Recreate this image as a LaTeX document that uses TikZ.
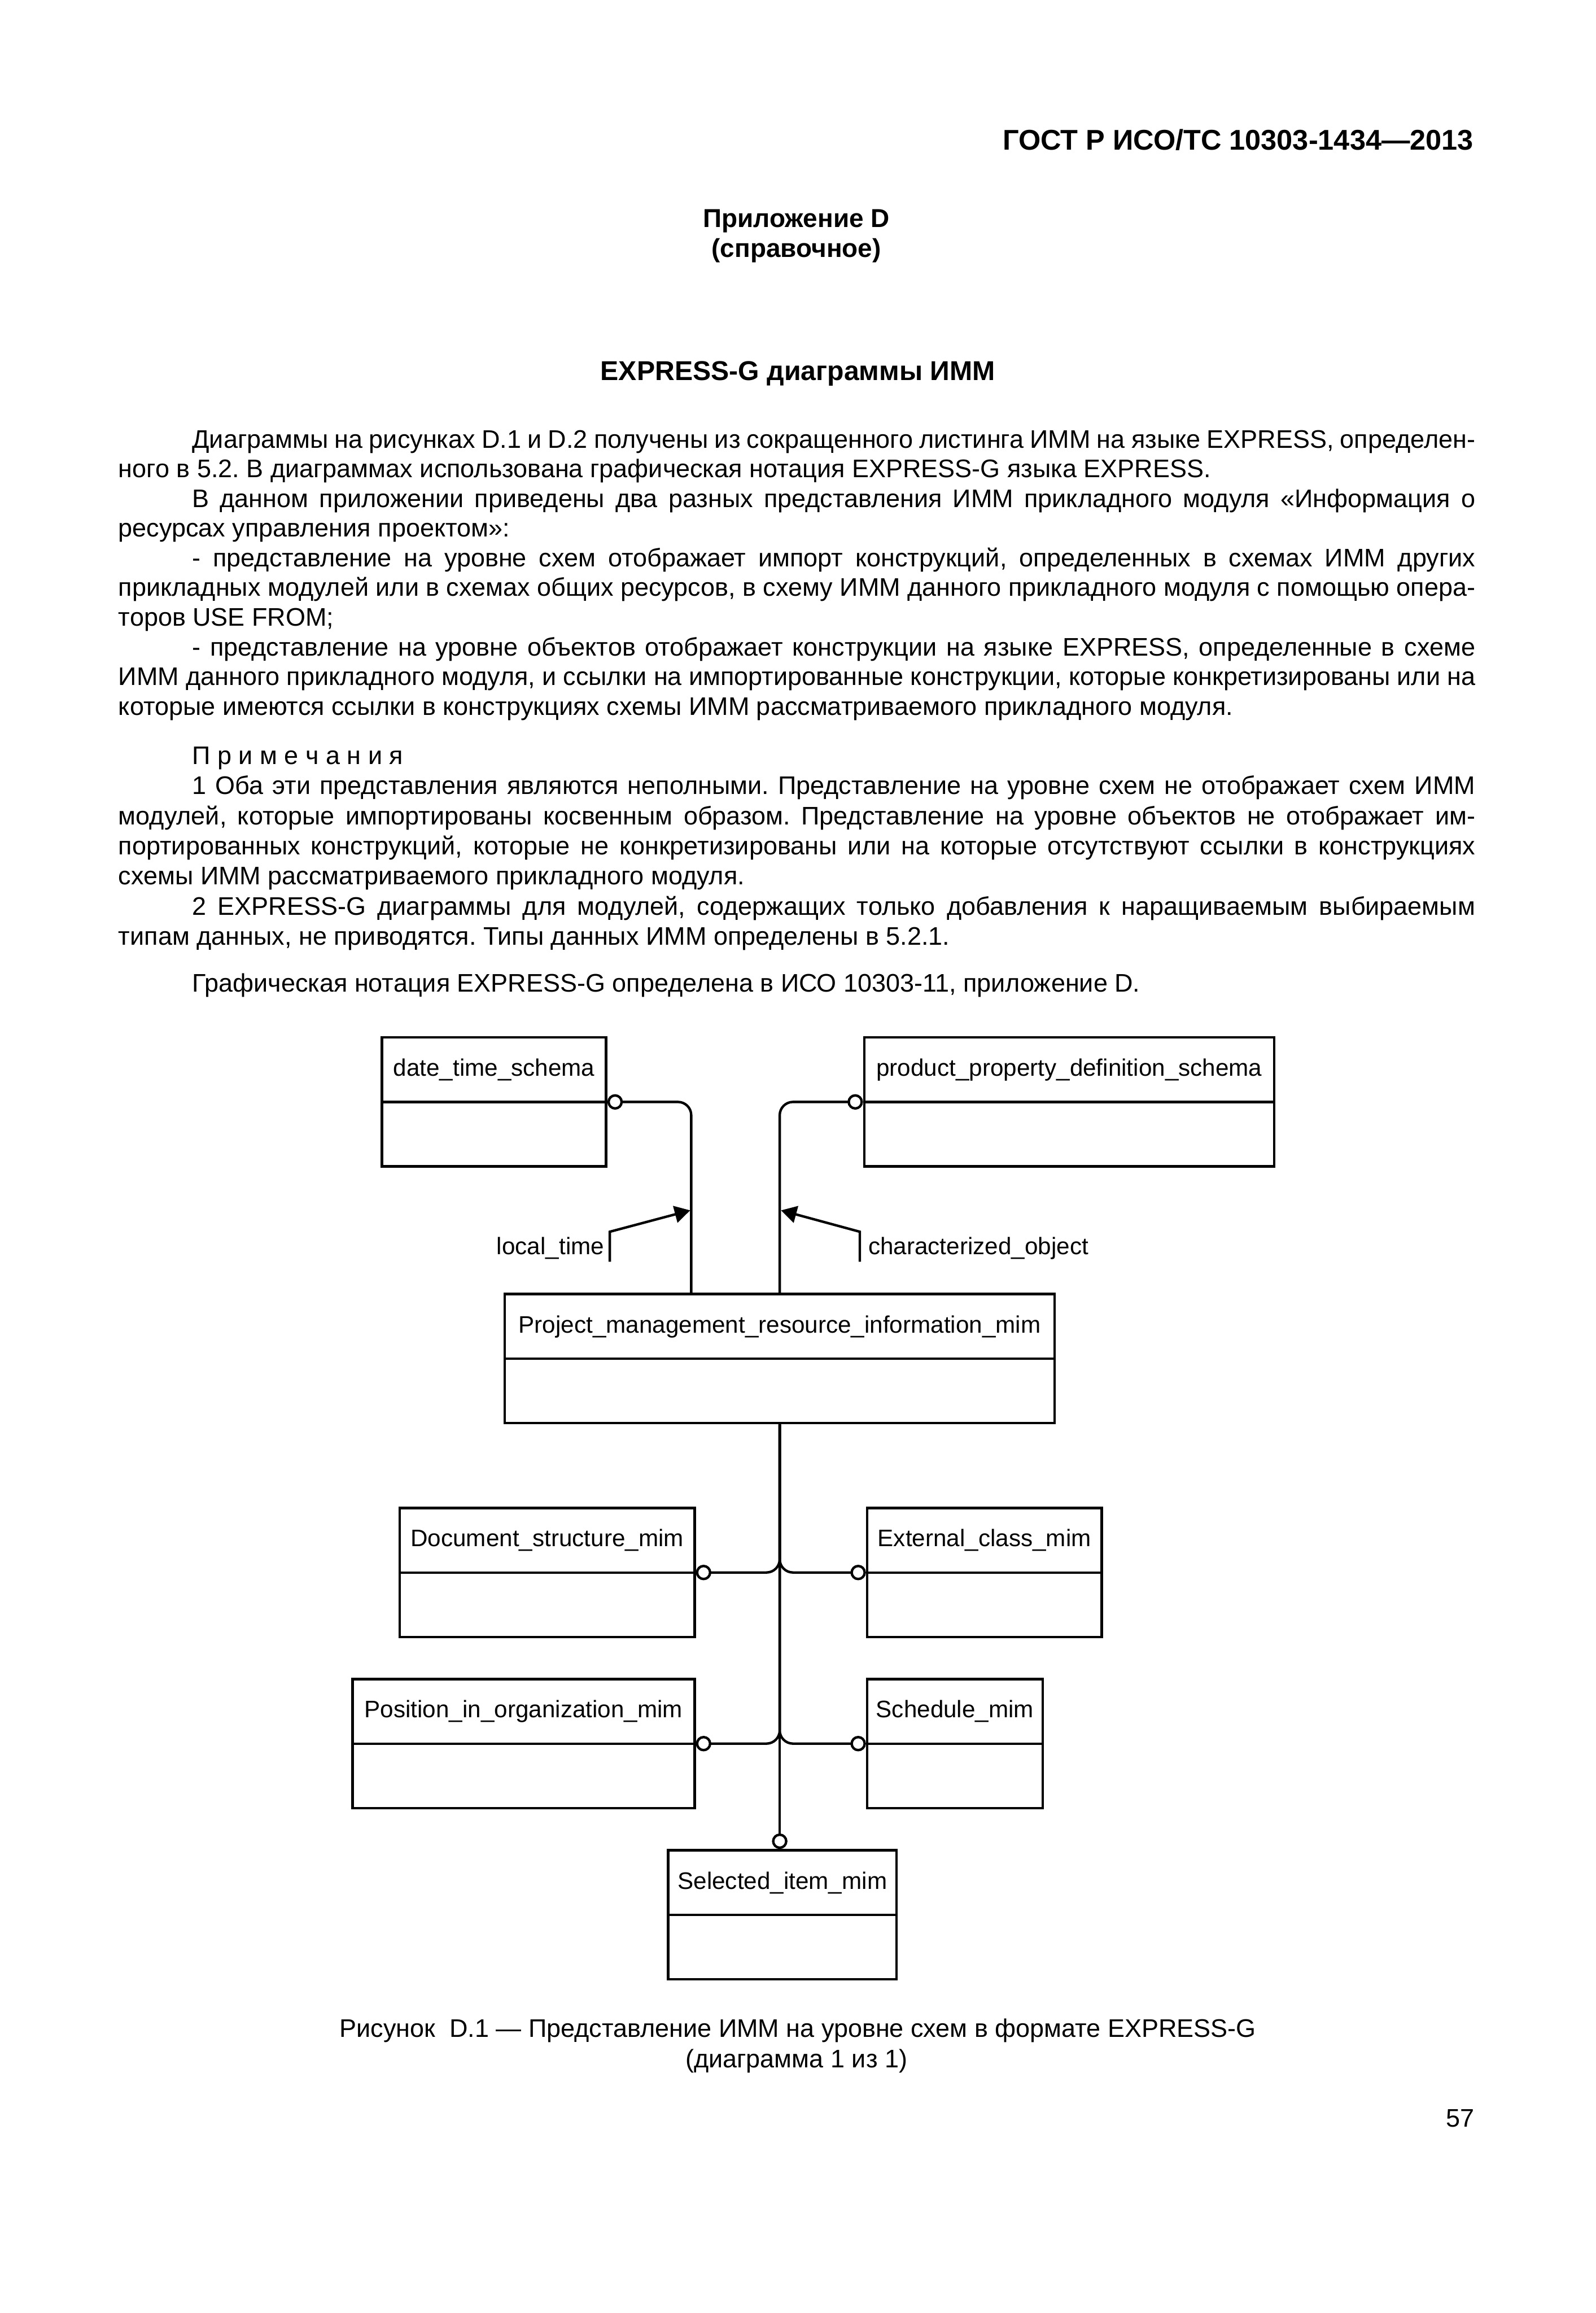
\documentclass[tikz,border=0pt]{standalone}
\usepackage{fontspec}
\setmainfont{Liberation Sans}
\usetikzlibrary{arrows.meta}
\setlength{\parindent}{0pt}
\tolerance=9999
\frenchspacing

\begin{document}
\begin{tikzpicture}[
    x=0.2mm, y=-0.2mm,
    pagetext/.style={inner sep=0pt, font=\fontsize{9.8pt}{11.45pt}\selectfont},
    headtext/.style={inner sep=0pt, font=\fontsize{11pt}{12pt}\selectfont\bfseries},
    bodytext/.style={inner sep=0pt, text width=184mm, align=justify, anchor=north west},
    bodyfont/.style={font=\fontsize{9.8pt}{#1}\selectfont},
    schemabox/.style={rectangle, draw, line width=0.95pt, minimum height=17.5mm, inner sep=0pt,
                      path picture={\draw[line width=0.95pt] (path picture bounding box.west) -- (path picture bounding box.east);}},
    schemaname/.style={inner sep=0pt, font=\fontsize{9.2pt}{11pt}\selectfont},
    conn/.style={line width=0.95pt, rounded corners=1.8mm, {Circle[open, length=2.1mm]}-},
    refarrow/.style={line width=0.95pt, -{Triangle[length=2.1mm, width=2.3mm]}}
]
    \useasboundingbox (0,0) rectangle (1082,1568);
    \fill[white] (0,0) rectangle (1082,1568);

    \node[headtext, anchor=base east] (gost) at (999.5,101.6) {ГОСТ Р ИСО/ТС 10303-1434—2013};
    \node[headtext, font=\fontsize{10pt}{12pt}\selectfont\bfseries, anchor=base] (appx) at (540,154.1) {Приложение D};
    \node[headtext, font=\fontsize{10pt}{12pt}\selectfont\bfseries, anchor=base] (appxkind) at (540,174.3) {(справочное)};
    \node[headtext, font=\fontsize{10.5pt}{12pt}\selectfont\bfseries, anchor=base] (title) at (541,257.9) {EXPRESS-G диаграммы ИММ};

    \node[bodytext, bodyfont=11.45pt] (intro) at (80,289.2) {%
        \hspace*{10mm}\strut Диаграммы на рисунках D.1 и D.2 получены из сокращенного листинга ИММ на языке EXPRESS, определен-\linebreak
        ного в 5.2. В диаграммах использована графическая нотация EXPRESS-G языка EXPRESS.\par
        \hspace*{10mm}В данном приложении приведены два разных представления ИММ прикладного модуля «Информация о\linebreak
        ресурсах управления проектом»:\par
        \hspace*{10mm}- представление на уровне схем отображает импорт конструкций, определенных в схемах ИММ других\linebreak
        прикладных модулей или в схемах общих ресурсов, в схему ИММ данного прикладного модуля с помощью опера-\linebreak
        торов USE FROM;\par
        \hspace*{10mm}- представление на уровне объектов отображает конструкции на языке EXPRESS, определенные в схеме\linebreak
        ИММ данного прикладного модуля, и ссылки на импортированные конструкции, которые конкретизированы или на\linebreak
        которые имеются ссылки в конструкциях схемы ИММ рассматриваемого прикладного модуля.};
    \node[bodytext, bodyfont=11.62pt] (notes) at (80,503.5) {%
        \hspace*{10mm}\strut П р и м е ч а н и я\par
        \hspace*{10mm}1 Оба эти представления являются неполными. Представление на уровне схем не отображает схем ИММ\linebreak
        модулей, которые импортированы косвенным образом. Представление на уровне объектов не отображает им-\linebreak
        портированных конструкций, которые не конкретизированы или на которые отсутствуют ссылки в конструкциях\linebreak
        схемы ИММ рассматриваемого прикладного модуля.\par
        \hspace*{10mm}2 EXPRESS-G диаграммы для модулей, содержащих только добавления к наращиваемым выбираемым\linebreak
        типам данных, не приводятся. Типы данных ИММ определены в 5.2.1.};
    \node[pagetext, anchor=base west] (notation) at (130,672.3) {Графическая нотация EXPRESS-G определена в ИСО 10303-11, приложение D.};

    \node[schemabox, minimum width=30.4mm] (dts) at (335,747) {};
    \node[schemabox, minimum width=55.6mm] (ppds) at (725,747) {};
    \node[schemabox, minimum width=74.6mm] (pmri) at (528.7,921) {};
    \node[schemabox, minimum width=40mm] (dsm) at (371,1066) {};
    \node[schemabox, minimum width=31.8mm] (ecm) at (667.5,1066) {};
    \node[schemabox, minimum width=46.4mm] (pio) at (355,1182) {};
    \node[schemabox, minimum width=23.8mm] (shm) at (647.5,1182) {};
    \node[schemabox, minimum width=31mm] (sim) at (530.5,1298) {};

    \node[schemaname] (dtsname) at ([yshift=4.35mm]dts.center) {date\_time\_schema};
    \node[schemaname] (ppdsname) at ([yshift=4.35mm]ppds.center) {product\_property\_definition\_schema};
    \node[schemaname] (pmriname) at ([yshift=4.35mm]pmri.center) {Project\_management\_resource\_information\_mim};
    \node[schemaname] (dsmname) at ([yshift=4.35mm]dsm.center) {Document\_structure\_mim};
    \node[schemaname] (ecmname) at ([yshift=4.35mm]ecm.center) {External\_class\_mim};
    \node[schemaname] (pioname) at ([yshift=4.35mm]pio.center) {Position\_in\_organization\_mim};
    \node[schemaname] (shmname) at ([yshift=4.35mm]shm.center) {Schedule\_mim};
    \node[schemaname] (simname) at ([yshift=4.35mm]sim.center) {Selected\_item\_mim};

    \draw[conn] (dts.east) -| ([xshift=-12mm]pmri.north);
    \draw[conn] (ppds.west) -| (pmri.north);
    \draw[conn] (dsm.east) -| (pmri.south);
    \draw[conn] (ecm.west) -| (pmri.south);
    \draw[conn] (pio.east) -| (pmri.south);
    \draw[conn] (shm.west) -| (pmri.south);
    \draw[conn] (pmri.south |- sim.north) -- (pmri.south);

    \node[schemaname, anchor=base east] (ltlab) at (410,850.5) {local\_time};
    \node[schemaname, anchor=base west] (colab) at (588.5,850.5) {characterized\_object};
    \coordinate (lttick) at (413.5,855.3);
    \coordinate (cotick) at (583,855.3);
    \coordinate (lttip) at (468,820.5);
    \coordinate (cotip) at (529.6,820.5);
    \draw[refarrow] (lttick) -- ++(0,-20.3) -- (lttip);
    \draw[refarrow] (cotick) -- ++(0,-20.3) -- (cotip);

    \node[pagetext, anchor=base] (caption) at (541,1381) {Рисунок \ D.1 — Представление ИММ на уровне схем в формате EXPRESS-G};
    \node[pagetext, anchor=base] (captionsub) at (540,1401.5) {(диаграмма 1 из 1)};
    \node[pagetext, anchor=base east] (pagenum) at (1000,1441.7) {57};
\end{tikzpicture}
\end{document}
